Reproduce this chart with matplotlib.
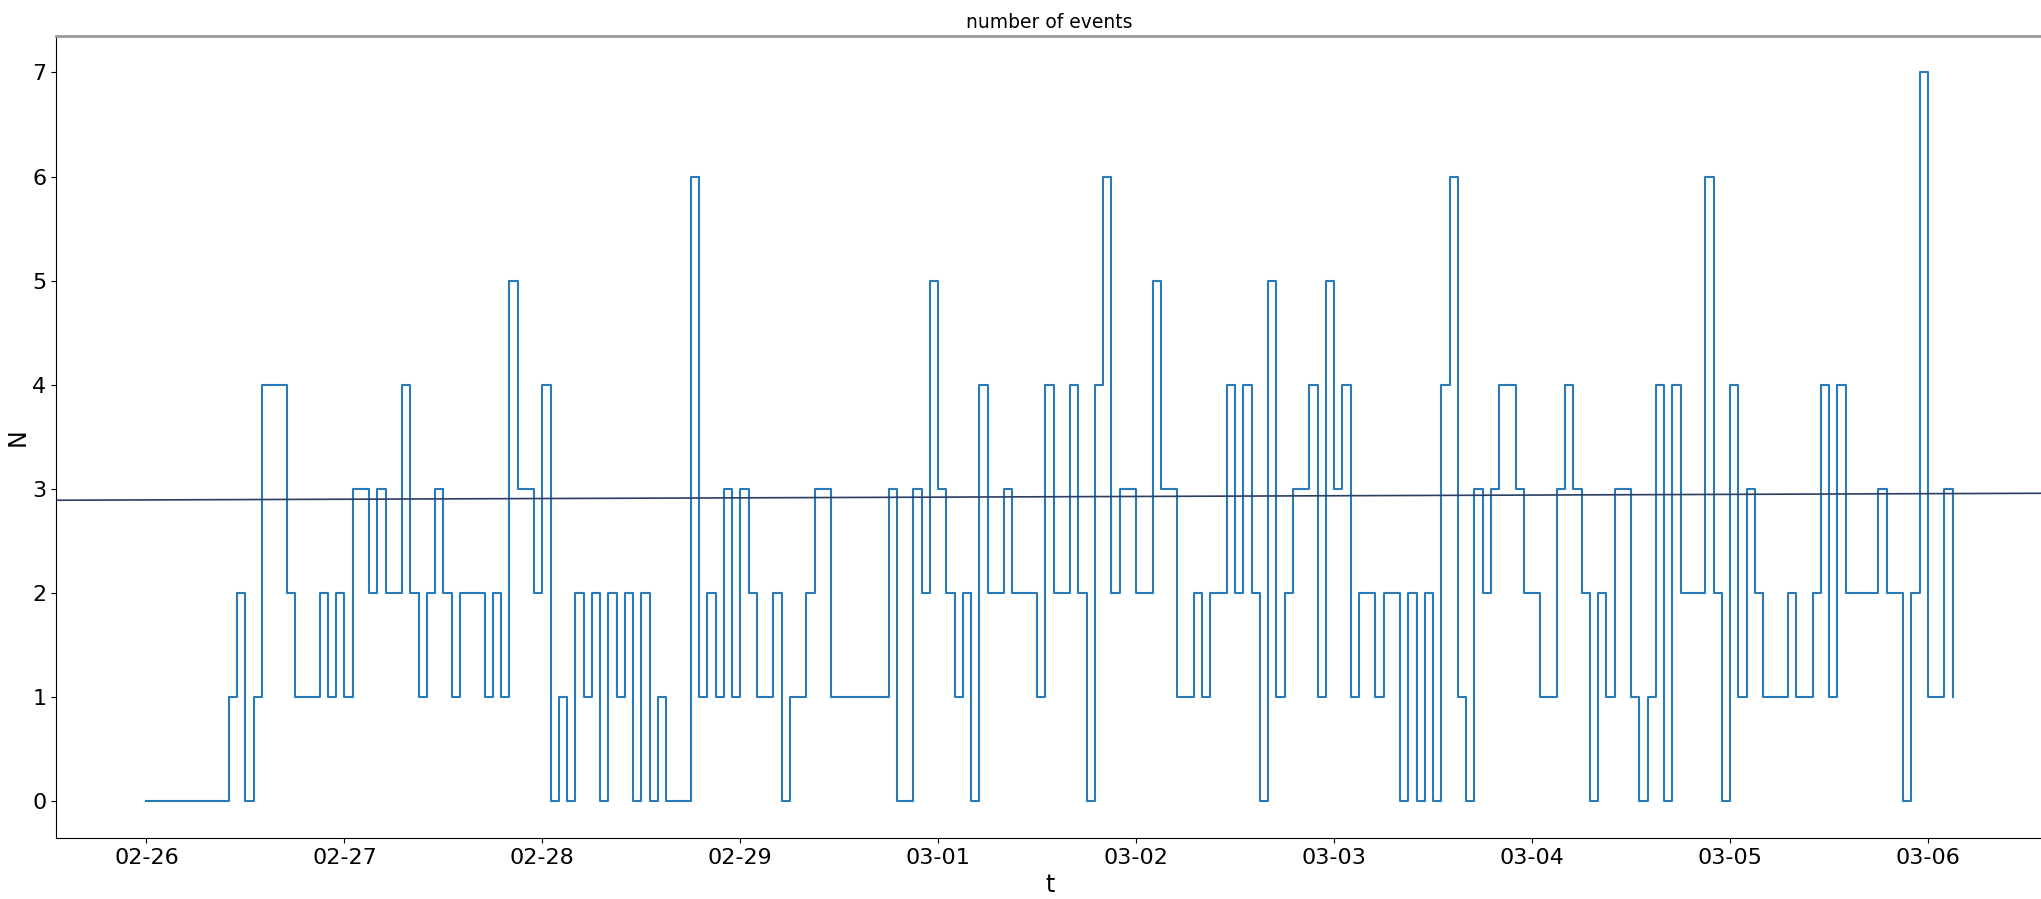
import matplotlib
matplotlib.use("Agg")
import matplotlib.pyplot as plt
import matplotlib.dates as mdates
import pandas as pd

# hourly event counts from 2020-02-26 00:00
start = "2020-02-26 00:00"
counts = [
    0, 0, 0, 0, 0, 0, 0, 0, 0, 0, 1, 2, 0, 1, 4, 4, 4, 2, 1, 1, 1, 2, 1, 2,   # 02-26
    1, 3, 3, 2, 3, 2, 2, 4, 2, 1, 2, 3, 2, 1, 2, 2, 2, 1, 2, 1, 5, 3, 3, 2,   # 02-27
    4, 0, 1, 0, 2, 1, 2, 0, 2, 1, 2, 0, 2, 0, 1, 0, 0, 0, 6, 1, 2, 1, 3, 1,   # 02-28
    3, 2, 1, 1, 2, 0, 1, 1, 2, 3, 3, 1, 1, 1, 1, 1, 1, 1, 3, 0, 0, 3, 2, 5,   # 02-29
    3, 2, 1, 2, 0, 4, 2, 2, 3, 2, 2, 2, 1, 4, 2, 2, 4, 2, 0, 4, 6, 2, 3, 3,   # 03-01
    2, 2, 5, 3, 3, 1, 1, 2, 1, 2, 2, 4, 2, 4, 2, 0, 5, 1, 2, 3, 3, 4, 1, 5,   # 03-02
    3, 4, 1, 2, 2, 1, 2, 2, 0, 2, 0, 2, 0, 4, 6, 1, 0, 3, 2, 3, 4, 4, 3, 2,   # 03-03
    2, 1, 1, 3, 4, 3, 2, 0, 2, 1, 3, 3, 1, 0, 1, 4, 0, 4, 2, 2, 2, 6, 2, 0,   # 03-04
    4, 1, 3, 2, 1, 1, 1, 2, 1, 1, 2, 4, 1, 4, 2, 2, 2, 2, 3, 2, 2, 0, 2, 7,   # 03-05
    1, 1, 3, 1,                                                               # 03-06
]
t = pd.date_range(start, periods=len(counts), freq="h")

# reference line (value at 02-26 00:00 and at 03-06 00:00)
ref_times = [pd.Timestamp("2020-02-26 00:00"), pd.Timestamp("2020-03-06 00:00")]
ref_values = [2.895, 2.955]

plt.rcParams["font.family"] = ["DejaVu Sans"]

fig = plt.figure(figsize=(20.41, 8.99), dpi=100)
ax = fig.add_axes([0.0275, 0.068, 0.9735, 0.892])

ax.step(t, counts, where="post", color="#2a7ab8", lw=1.5)
ax.axline((mdates.date2num(ref_times[0]), ref_values[0]),
          (mdates.date2num(ref_times[1]), ref_values[1]),
          color="#2b3f63", lw=1.2)

ax.xaxis.set_major_locator(mdates.DayLocator())
ax.xaxis.set_major_formatter(mdates.DateFormatter("%m-%d"))
ax.set_yticks(range(0, 8))
ax.tick_params(labelsize=16)

ax.set_title("number of events", fontsize=13.5)
ax.set_xlabel("t", fontsize=17, labelpad=4)
ax.set_ylabel("N", fontsize=17, labelpad=2)

ax.spines["top"].set_color("#9a9a9a")
ax.spines["top"].set_linewidth(2)

fig.savefig("out.png", dpi=100)
